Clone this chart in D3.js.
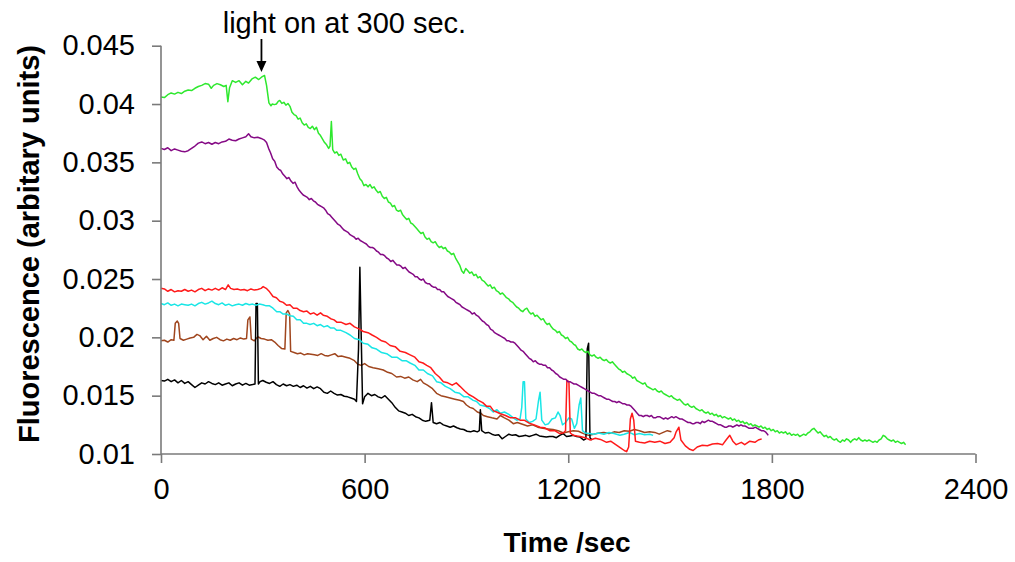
<!DOCTYPE html>
<html><head><meta charset="utf-8">
<script src="https://cdn.jsdelivr.net/npm/d3@7"></script>
<style>body{margin:0;background:#fff}svg{display:block}</style>
</head><body><svg id="c" width="1015" height="562"></svg>
<script>
const xTicks=[0,600,1200,1800,2400];
const yTicks=[0.01,0.015,0.02,0.025,0.03,0.035,0.04,0.045];
const yTickLabels=["0.01","0.015","0.02","0.025","0.03","0.035","0.04","0.045"];
const xTitle="Time /sec";
const yTitle="Fluorescence (arbitary units)";
const note="light on at 300 sec.";
const noteTime=296;

const green=[[0,.0406],[10,.04055],[20,.0408],[30,.04095],[40,.04085],[50,.041],[60,.0409],[70,.0411],[80,.0412],[90,.04115],[100,.04135],[110,.0415],[120,.0416],[130,.04175],[140,.0417],[148,.04135],[155,.0416],[165,.04175],[175,.04165],[185,.0415],[192,.0416],[197,.0402],[202,.0414],[210,.042],[220,.04185],[230,.042],[240,.04165],[250,.04195],[258,.0418],[268,.04215],[278,.0423],[288,.0421],[296,.0423],[305,.04245],[311,.0416],[318,.0401],[324,.03985],[328,.04],[334,.03995],[340,.04],[346,.04025],[350,.0403],[356,.04005],[362,.04015],[368,.0399],[374,.04005],[380,.0398],[386,.0393],[392,.0391],[398,.039],[404,.0387],[410,.0388],[416,.0384],[422,.0382],[428,.0383],[434,.038],[440,.0379],[446,.0381],[452,.0378],[458,.038],[464,.0375],[470,.0373],[476,.037],[482,.0367],[488,.0365],[494,.0362],[498,.0364],[502,.0385],[506,.0361],[512,.0358],[518,.0359],[524,.0356],[530,.0357],[537,.0352],[544,.0353],[550,.0349],[556,.035],[562,.0346],[568,.0344],[574,.0345],[580,.034],[586,.0336],[592,.0334],[598,.033],[604,.0331],[610,.0329],[616,.0331],[622,.0328],[628,.0329],[634,.0326],[640,.0324],[646,.0325],[652,.0321],[658,.0319],[664,.032],[670,.0316],[676,.0315],[682,.0312],[688,.0313],[694,.0309],[700,.0308],[706,.0309],[712,.0305],[718,.0303],[724,.0301],[730,.0302],[736,.0298],[742,.0297],[748,.0295],[754,.0293],[760,.0291],[766,.0289],[772,.029],[778,.0286],[784,.0284],[790,.0285],[796,.0282],[802,.0281],[808,.0282],[814,.0279],[820,.0277],[826,.0278],[832,.0276],[838,.0277],[844,.0274],[850,.0273],[856,.0271],[862,.0272],[868,.0268],[874,.0265],[880,.0262],[886,.0257],[892,.0255],[898,.0259],[904,.0257],[910,.0255],[916,.0256],[922,.0253],[928,.0254],[934,.0251],[940,.0252],[946,.0249],[952,.0248],[958,.0246],[964,.0244],[970,.0245],[976,.0242],[982,.0243],[988,.024],[994,.0239],[1000,.0237],[1006,.0238],[1012,.0236],[1018,.0234],[1024,.0233],[1030,.0231],[1036,.023],[1042,.0228],[1048,.0226],[1054,.0225],[1060,.0223],[1066,.0222],[1072,.0224],[1078,.0225],[1084,.0222],[1090,.022],[1096,.0221],[1102,.0218],[1108,.0219],[1114,.0217],[1120,.0215],[1126,.0216],[1132,.0213],[1138,.0211],[1144,.0212],[1150,.0209],[1156,.0207],[1162,.0206],[1168,.0204],[1174,.0205],[1180,.0202],[1186,.0201],[1192,.0199],[1198,.02],[1204,.0197],[1210,.0196],[1216,.0194],[1222,.0193],[1228,.019],[1234,.0189],[1240,.019],[1246,.0188],[1252,.0187],[1258,.0188],[1264,.0185],[1270,.0184],[1276,.0185],[1282,.0183],[1288,.0182],[1294,.0183],[1300,.0181],[1306,.018],[1312,.0181],[1318,.0179],[1324,.0178],[1330,.0179],[1336,.0177],[1342,.0175],[1348,.0173],[1354,.0172],[1360,.017],[1366,.0171],[1372,.0169],[1378,.0168],[1384,.0167],[1390,.0165],[1396,.0166],[1402,.0163],[1408,.0162],[1414,.0161],[1420,.016],[1426,.0161],[1432,.0158],[1438,.0157],[1444,.0156],[1450,.0155],[1456,.0156],[1462,.0154],[1468,.0153],[1474,.0154],[1480,.0152],[1486,.0151],[1492,.015],[1498,.0149],[1504,.015],[1510,.0148],[1516,.0147],[1522,.0146],[1528,.0147],[1534,.0145],[1540,.0143],[1546,.0142],[1552,.0143],[1558,.0141],[1564,.014],[1570,.0141],[1576,.0139],[1582,.0138],[1588,.0137],[1594,.0138],[1600,.0136],[1606,.0135],[1612,.0136],[1618,.0134],[1624,.0135],[1630,.0133],[1636,.0134],[1642,.0132],[1648,.0133],[1654,.0131],[1660,.0132],[1666,.0131],[1672,.013],[1678,.0131],[1684,.0129],[1690,.013],[1696,.0128],[1702,.0129],[1708,.0127],[1714,.0128],[1720,.0126],[1726,.0127],[1732,.0125],[1738,.0126],[1744,.0124],[1750,.0125],[1756,.0124],[1762,.0123],[1768,.0124],[1774,.0122],[1780,.0123],[1786,.0121],[1792,.0122],[1798,.012],[1804,.0121],[1810,.0119],[1816,.012],[1822,.0118],[1828,.0119],[1834,.0118],[1840,.0119],[1846,.0117],[1852,.0118],[1858,.0116],[1864,.0117],[1870,.0116],[1876,.0117],[1882,.0115],[1888,.0116],[1894,.0117],[1900,.0116],[1906,.0118],[1912,.0119],[1918,.0121],[1924,.0122],[1930,.012],[1936,.0118],[1942,.0119],[1948,.0117],[1954,.0115],[1960,.0116],[1966,.0114],[1972,.0115],[1978,.0113],[1984,.0112],[1990,.0113],[1996,.0111],[2002,.011],[2008,.0112],[2014,.0111],[2020,.0113],[2026,.0112],[2032,.011],[2038,.0112],[2044,.0113],[2050,.0112],[2056,.0114],[2062,.0112],[2068,.0111],[2074,.0112],[2080,.0111],[2086,.0112],[2092,.0111],[2098,.011],[2104,.0111],[2110,.011],[2116,.0112],[2122,.0113],[2128,.0116],[2134,.0115],[2140,.0113],[2146,.0112],[2152,.0111],[2158,.0112],[2164,.011],[2170,.0111],[2176,.011],[2182,.0109],[2188,.011],[2194,.0108]];

const purple=[[0,.0362],[10,.0361],[20,.03625],[30,.036],[40,.03615],[50,.03605],[60,.03595],[70,.0359],[80,.036],[90,.0362],[100,.0364],[110,.03665],[120,.03675],[130,.0366],[140,.0367],[150,.03655],[160,.0367],[170,.0366],[180,.03675],[190,.0368],[200,.037],[210,.0369],[220,.03685],[230,.037],[240,.0371],[250,.0372],[258,.03745],[265,.0372],[275,.0371],[285,.03715],[295,.03705],[305,.0369],[311,.0367],[317,.0362],[323,.0358],[329,.0353],[335,.0351],[341,.0346],[347,.0344],[353,.0343],[359,.034],[365,.0338],[371,.0336],[377,.0337],[383,.0334],[389,.0332],[395,.0333],[401,.0329],[407,.0326],[413,.0324],[419,.0322],[425,.0321],[431,.032],[437,.0318],[443,.0319],[449,.0317],[455,.0316],[461,.0314],[467,.0313],[473,.0312],[479,.0311],[485,.0309],[491,.0306],[497,.0305],[503,.0303],[509,.0301],[515,.0299],[521,.0297],[527,.0296],[533,.0294],[539,.0292],[545,.0291],[551,.029],[557,.0288],[563,.0287],[569,.0286],[575,.0284],[581,.0285],[587,.0283],[593,.0282],[599,.0281],[605,.028],[611,.0278],[617,.0277],[623,.0277],[629,.0276],[635,.0274],[641,.0273],[647,.0271],[653,.0271],[659,.027],[665,.0268],[671,.0267],[677,.0265],[683,.0266],[689,.0264],[695,.0262],[701,.0262],[707,.0261],[713,.0259],[719,.026],[725,.0258],[731,.0256],[737,.0255],[743,.0254],[749,.0252],[755,.0252],[761,.025],[767,.0249],[773,.025],[779,.0247],[785,.0246],[791,.0246],[797,.0244],[803,.0243],[809,.0243],[815,.0241],[821,.0241],[827,.0239],[833,.0239],[839,.0237],[845,.0235],[851,.0234],[857,.0233],[863,.0232],[869,.023],[875,.0229],[881,.0228],[887,.0226],[893,.0225],[899,.0224],[905,.0223],[911,.0222],[917,.022],[923,.0221],[929,.0219],[935,.0218],[941,.0216],[947,.0214],[953,.0213],[959,.0211],[965,.021],[971,.0207],[977,.0206],[983,.0204],[989,.0203],[995,.0202],[1001,.0201],[1007,.02],[1013,.0199],[1019,.0197],[1025,.0197],[1031,.0196],[1037,.0196],[1043,.0195],[1049,.0193],[1055,.0191],[1061,.0189],[1067,.0188],[1073,.0186],[1079,.0184],[1085,.0182],[1091,.0181],[1097,.0179],[1103,.018],[1109,.0178],[1115,.0177],[1121,.0177],[1127,.0176],[1133,.0176],[1139,.0174],[1145,.0174],[1151,.0172],[1157,.0171],[1163,.0169],[1169,.0168],[1175,.0166],[1181,.0165],[1187,.0164],[1193,.0164],[1199,.0162],[1205,.0162],[1211,.0161],[1217,.016],[1223,.016],[1229,.0159],[1235,.0158],[1241,.0157],[1247,.0156],[1253,.0155],[1259,.0154],[1265,.0153],[1271,.0152],[1277,.0152],[1283,.0151],[1289,.015],[1295,.015],[1301,.0149],[1307,.0148],[1313,.0147],[1319,.0147],[1325,.0146],[1331,.0145],[1337,.0145],[1343,.0144],[1349,.0145],[1355,.0144],[1361,.0143],[1367,.0143],[1373,.0142],[1379,.0142],[1385,.0141],[1391,.0139],[1397,.0137],[1403,.0135],[1409,.0133],[1415,.0133],[1421,.0132],[1427,.0133],[1433,.0133],[1439,.0132],[1445,.0133],[1451,.0131],[1457,.0131],[1463,.0132],[1469,.0132],[1475,.0131],[1481,.013],[1487,.0131],[1493,.013],[1499,.0131],[1505,.0132],[1511,.0131],[1517,.0132],[1523,.0131],[1529,.013],[1535,.013],[1541,.0129],[1547,.0128],[1553,.0127],[1559,.0127],[1565,.0126],[1571,.0126],[1577,.0127],[1583,.0127],[1589,.0126],[1595,.0128],[1601,.0127],[1607,.0128],[1613,.0129],[1619,.0128],[1625,.0128],[1631,.0127],[1637,.0126],[1643,.0125],[1649,.0125],[1655,.0124],[1661,.0123],[1667,.0123],[1673,.0124],[1679,.0124],[1685,.0123],[1691,.0124],[1697,.0125],[1703,.0124],[1709,.0125],[1715,.0124],[1721,.0124],[1727,.0123],[1733,.0122],[1739,.0122],[1745,.0122],[1751,.0123],[1757,.0122],[1763,.0121],[1769,.012],[1775,.012],[1781,.0119],[1787,.0117],[1789,.0116]];

const red=[[0,.0242],[10,.02415],[20,.02395],[30,.0241],[40,.0239],[50,.024],[60,.02395],[70,.0241],[80,.02395],[90,.02405],[100,.0239],[110,.0241],[120,.0242],[130,.024],[140,.02415],[150,.02405],[160,.0242],[170,.02405],[180,.02425],[190,.0241],[198,.0245],[205,.0242],[215,.0241],[225,.02415],[235,.02405],[245,.0241],[255,.024],[265,.02415],[275,.02405],[285,.0241],[295,.0242],[301,.02435],[310,.0242],[320,.0239],[330,.0235],[340,.0234],[350,.0231],[360,.023],[370,.02275],[380,.0228],[390,.0225],[400,.0225],[410,.0223],[420,.0222],[430,.02225],[440,.022],[450,.0221],[460,.0219],[470,.0221],[478,.0219],[490,.0218],[500,.0216],[510,.0215],[518,.0213],[530,.0213],[545,.0211],[557,.0212],[570,.0209],[585,.0207],[596,.0205],[610,.0204],[622,.0202],[635,.02],[650,.0197],[662,.0196],[675,.0193],[690,.0192],[705,.0188],[720,.0187],[734,.0185],[748,.0183],[760,.0179],[772,.0178],[783,.0176],[795,.0174],[808,.0169],[820,.0166],[832,.0162],[845,.0161],[858,.0159],[870,.0161],[881,.0158],[895,.0154],[907,.0151],[920,.0149],[935,.0146],[948,.0144],[959,.0141],[970,.0141],[980,.0137],[989,.0136],[1000,.01345],[1015,.0133],[1030,.0131],[1045,.0131],[1058,.0129],[1070,.0129],[1085,.01265],[1100,.0125],[1117,.0123],[1130,.01225],[1145,.012],[1160,.012],[1175,.01175],[1185,.0118],[1192,.012],[1196,.0163],[1202,.0162],[1206,.0118],[1215,.0116],[1225,.01155],[1235,.0115],[1250,.0114],[1265,.0112],[1280,.01135],[1295,.01125],[1313,.011],[1325,.0111],[1340,.0108],[1355,.0105],[1365,.0103],[1372,.0102],[1378,.0106],[1383,.013],[1388,.0135],[1393,.0129],[1398,.0111],[1410,.011],[1425,.01095],[1440,.0111],[1455,.011],[1470,.0111],[1485,.0109],[1500,.011],[1512,.0114],[1518,.0119],[1526,.0123],[1532,.0112],[1545,.0107],[1558,.0104],[1568,.0103],[1580,.0106],[1595,.01075],[1610,.0107],[1625,.01085],[1640,.0109],[1655,.0108],[1665,.0112],[1676,.0116],[1685,.0111],[1695,.0108],[1710,.011],[1720,.0108],[1735,.0111],[1750,.011],[1760,.0112],[1770,.0113]];

const cyan=[[0,.0229],[10,.0228],[20,.02295],[30,.02275],[40,.02285],[50,.0227],[60,.02285],[70,.0228],[80,.02275],[90,.02285],[100,.0227],[110,.0229],[120,.023],[130,.02285],[140,.02295],[150,.0231],[160,.0229],[170,.0228],[180,.02295],[190,.02275],[200,.02285],[210,.0227],[220,.0228],[230,.02285],[240,.02275],[250,.0229],[260,.0228],[270,.02285],[280,.02275],[290,.02285],[300,.0228],[310,.0227],[320,.0227],[330,.0225],[341,.0222],[350,.0222],[360,.022],[370,.022],[380,.02185],[390,.0218],[400,.0215],[410,.0215],[420,.0212],[430,.0212],[439,.0211],[450,.0212],[460,.021],[470,.0211],[480,.0209],[490,.021],[500,.0208],[510,.0208],[518,.0206],[530,.0206],[545,.0204],[557,.0202],[570,.0199],[585,.0198],[596,.0195],[610,.0194],[622,.0191],[635,.019],[650,.0187],[665,.0186],[680,.0183],[695,.0183],[710,.018],[722,.018],[734,.0178],[748,.0176],[760,.0172],[773,.0172],[785,.0169],[800,.0167],[812,.0162],[825,.0161],[838,.0158],[852,.0156],[866,.0153],[880,.0152],[893,.0149],[905,.0149],[920,.0146],[930,.0145],[940,.0142],[955,.0141],[968,.0139],[979,.0136],[990,.0138],[1000,.0135],[1012,.0136],[1025,.0134],[1038,.0131],[1048,.0129],[1058,.013],[1063,.014],[1067,.0162],[1071,.0162],[1075,.013],[1085,.0127],[1095,.0128],[1105,.013],[1112,.0145],[1117,.0153],[1122,.0129],[1132,.0125],[1142,.0126],[1152,.013],[1162,.0131],[1170,.0136],[1176,.0133],[1183,.0125],[1192,.0127],[1202,.0131],[1210,.013],[1218,.0122],[1225,.0126],[1232,.0142],[1237,.0148],[1242,.012],[1250,.0118],[1262,.01175],[1275,.0117],[1290,.0118],[1305,.0117],[1320,.01185],[1335,.01175],[1352,.0116],[1365,.0117],[1380,.01185],[1395,.01165],[1410,.01175],[1425,.01165],[1440,.0117],[1450,.0116]];

const brown=[[0,.0197],[10,.01975],[20,.0196],[30,.0198],[38,.01975],[42,.0212],[48,.0214],[52,.0212],[56,.0199],[66,.01975],[76,.01985],[86,.01995],[96,.02],[106,.02025],[114,.02015],[124,.0198],[134,.0201],[144,.01975],[154,.0199],[164,.02],[174,.0198],[184,.0197],[194,.01985],[204,.01975],[214,.0199],[224,.0198],[234,.01995],[244,.01985],[252,.0199],[256,.0215],[262,.02175],[266,.01985],[275,.0197],[285,.02005],[295,.0199],[305,.01985],[315,.01975],[325,.0198],[335,.0196],[345,.0193],[355,.01905],[365,.019],[369,.0221],[374,.0223],[379,.022],[382,.0188],[392,.0187],[402,.0186],[412,.01865],[422,.0185],[432,.0186],[442,.01855],[452,.0185],[462,.01845],[472,.0186],[482,.01845],[492,.0184],[502,.0185],[512,.0186],[522,.01835],[532,.0184],[545,.0183],[557,.0182],[570,.018],[580,.0177],[590,.0176],[600,.01775],[612,.0175],[625,.0174],[640,.0173],[655,.0172],[668,.017],[680,.0169],[694,.0166],[706,.01665],[718,.0165],[730,.0166],[742,.01635],[755,.0162],[765,.0164],[773,.0161],[785,.0159],[800,.0156],[812,.0152],[825,.015],[838,.0149],[852,.0148],[866,.0147],[880,.0146],[891,.0145],[900,.0142],[910,.014],[920,.0139],[932,.0136],[942,.0135],[950,.0133],[962,.0132],[975,.0131],[990,.013],[1000,.0133],[1012,.0131],[1025,.0129],[1038,.0126],[1050,.0127],[1065,.01255],[1080,.0124],[1095,.0125],[1110,.0123],[1125,.0122],[1140,.01215],[1155,.0121],[1170,.012],[1186,.0118],[1200,.0119],[1215,.012],[1230,.01195],[1245,.01175],[1260,.0116],[1275,.0117],[1290,.0118],[1305,.01185],[1320,.01175],[1335,.0119],[1350,.01185],[1365,.012],[1380,.01195],[1395,.0121],[1410,.012],[1425,.01185],[1440,.0119],[1455,.01185],[1468,.0117],[1480,.01185],[1492,.012],[1504,.0119]];

const black=[[0,.0163],[10,.01625],[20,.0164],[30,.0162],[40,.01635],[50,.0161],[60,.0163],[70,.01605],[80,.0162],[90,.01595],[100,.0157],[110,.0159],[120,.0161],[130,.016],[140,.0162],[150,.01605],[160,.01595],[170,.0161],[180,.0159],[190,.016],[200,.0161],[210,.01585],[220,.016],[230,.0161],[240,.0159],[250,.01605],[260,.0159],[270,.01595],[277,.016],[280,.0229],[284,.0229],[287,.016],[292,.0162],[300,.0163],[310,.01615],[320,.01605],[330,.0162],[340,.01595],[350,.0158],[360,.016],[370,.01585],[380,.01595],[390,.0158],[400,.0159],[410,.0157],[420,.01585],[430,.01565],[440,.0158],[450,.0156],[460,.01575],[470,.0156],[480,.0153],[490,.0152],[500,.0154],[510,.0152],[520,.01505],[530,.0151],[540,.01495],[550,.0149],[560,.0148],[570,.0147],[576,.0145],[582,.019],[586,.026],[590,.02],[594,.0143],[600,.0149],[610,.0152],[620,.015],[630,.0151],[640,.0149],[650,.0148],[660,.015],[670,.0147],[680,.0144],[690,.014],[700,.0137],[710,.0136],[720,.0135],[730,.0133],[740,.0134],[750,.0132],[760,.0131],[770,.0129],[780,.0128],[792,.0129],[797,.0144],[802,.0127],[812,.0126],[822,.0127],[832,.0125],[842,.0124],[852,.0123],[862,.0124],[872,.01225],[882,.01215],[892,.0121],[902,.01195],[912,.0119],[922,.012],[932,.0119],[938,.012],[941,.0138],[945,.012],[955,.0118],[965,.01185],[975,.0117],[985,.0116],[995,.01165],[1005,.0113],[1015,.0115],[1025,.0117],[1035,.0116],[1045,.01165],[1055,.0115],[1065,.01155],[1075,.0116],[1085,.0115],[1095,.0116],[1105,.0117],[1115,.01155],[1125,.0115],[1135,.01145],[1145,.0115],[1155,.0115],[1165,.0114],[1175,.0116],[1185,.01175],[1195,.0115],[1205,.01155],[1215,.0116],[1225,.0115],[1235,.01145],[1245,.0112],[1252,.0113],[1256,.019],[1260,.0195],[1264,.0114],[1270,.0112]];

const seriesList=[
  {name:"brown",data:brown,color:"#a0461e"},
  {name:"black",data:black,color:"#000000"},
  {name:"cyan",data:cyan,color:"#19e6e6"},
  {name:"red",data:red,color:"#ff1a1a"},
  {name:"purple",data:purple,color:"#850a85"},
  {name:"green",data:green,color:"#2ee82e"}
];

const svg=d3.select("#c");
const x=d3.scaleLinear().domain([0,2400]).range([161,975.5]);
const y=d3.scaleLinear().domain([0.01,0.045]).range([454,45.7]);
const axisColor="#7a7a7a";
const font="'Liberation Sans', Arial, sans-serif";

const line=d3.line().x(d=>x(d[0])).y(d=>y(d[1]));
svg.append("g").selectAll("path").data(seriesList).join("path")
  .attr("d",d=>line(d.data)).attr("fill","none")
  .attr("stroke",d=>d.color).attr("stroke-width",1.5).attr("stroke-linejoin","round");

const yAxis=d3.axisLeft(y).tickValues(yTicks).tickFormat((d,i)=>yTickLabels[i]).tickSize(9).tickPadding(17);
const gy=svg.append("g").attr("transform","translate(161,0)").call(yAxis);
const xAxis=d3.axisBottom(x).tickValues(xTicks).tickFormat(d3.format("d")).tickSize(9).tickPadding(15);
const gx=svg.append("g").attr("transform","translate(0,454)").call(xAxis);
[gx,gy].forEach(g=>{
  g.select(".domain").attr("stroke",axisColor).attr("stroke-width",1.6);
  g.selectAll(".tick line").attr("stroke",axisColor).attr("stroke-width",1.6);
  g.selectAll(".tick text").attr("fill","#000").style("font-family",font).style("font-size","29px");
});
gy.select(".domain").attr("d","M0,45.7V454");
gx.select(".domain").attr("d","M161,0H975.5");

svg.append("text").attr("x",567).attr("y",551.7).attr("text-anchor","middle")
  .style("font-family",font).style("font-size","28px").style("font-weight","bold").text(xTitle);
svg.append("text").attr("transform","translate(38.5,244) rotate(-90)").attr("text-anchor","middle")
  .style("font-family",font).style("font-size","29px").style("font-weight","bold").text(yTitle);

svg.append("text").attr("x",222.7).attr("y",33.3)
  .style("font-family",font).style("font-size","29px").text(note);
const ax=x(noteTime);
svg.append("line").attr("x1",ax).attr("x2",ax).attr("y1",39).attr("y2",64).attr("stroke","#000").attr("stroke-width",1.8);
svg.append("path").attr("d",`M${ax-5},61L${ax+5},61L${ax},72Z`).attr("fill","#000");
</script></body></html>
